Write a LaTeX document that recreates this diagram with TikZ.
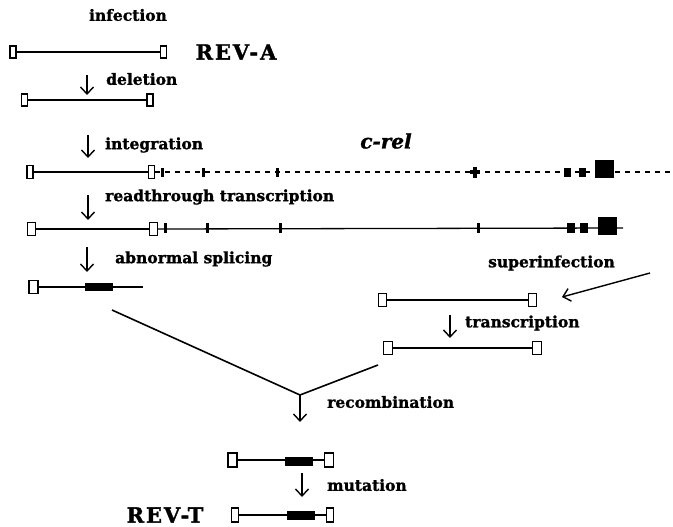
\documentclass[tikz,border=0pt]{standalone}
\usepackage{fontspec}
\setmainfont{DejaVu Serif}[BoldFeatures={FakeBold=1.3}, BoldItalicFeatures={FakeBold=1.3}]
\newfontfamily\spacedserif{DejaVu Serif}[LetterSpace=9, BoldFeatures={FakeBold=1.5}]
\usetikzlibrary{arrows.meta}
\begin{document}
\begin{tikzpicture}[x=1pt,y=-1pt,
  ltr/.style={draw, fill=white, rectangle, inner sep=0pt,
    minimum width=6pt, minimum height=12pt, line width=1.6pt},
  ltrthin/.style={ltr, line width=1.1pt, minimum width=8pt, minimum height=13pt},
  thickdna/.style={line width=2.2pt},
  thindna/.style={line width=1.3pt},
  crelline/.style={line width=2.4pt, dash pattern=on 5pt off 5pt},
  exon/.style={fill=black, draw=none, rectangle, inner sep=0pt},
  tick/.style={exon, minimum width=3pt, minimum height=9pt},
  smallexon/.style={exon, minimum width=7pt, minimum height=9pt},
  bigexon/.style={exon, minimum width=19pt, minimum height=18pt},
  insert/.style={exon, minimum width=28pt, minimum height=8pt},
  lab/.style={font=\bfseries\fontsize{15.5}{17}\selectfont, inner sep=0pt, anchor=west},
  big/.style={font=\spacedserif\bfseries\fontsize{21}{24}\selectfont, inner sep=0pt},
  flow/.style={-{Straight Barb[length=7pt,width=13pt]}, line width=1.4pt}]
\useasboundingbox (0,0) rectangle (673,527);

% ---- REV-A provirus ----
\node[lab, anchor=center] (tinf) at (128,15) {infection};
\node[ltr] (a1) at (13,52) {};
\node[ltr] (a2) at (163.5,52) {};
\draw[thickdna] (a1) -- (a2);
\node[big] (reva) at (236,52) {REV-A};

% ---- deletion ----
\coordinate (d1s) at (87,75); \coordinate (d1e) at (87,95);
\draw[flow] (d1s) -- (d1e);
\node[lab] (tdel) at (106,79) {deletion};
\node[ltr] (b1) at (24.5,100) {};
\node[ltr] (b2) at (150,100) {};
\draw[thickdna] (b1) -- (b2);

% ---- integration next to c-rel ----
\coordinate (d2s) at (88,135); \coordinate (d2e) at (88,158);
\draw[flow] (d2s) -- (d2e);
\node[lab] (tint) at (105,145) {integration};
\node[font=\bfseries\itshape\fontsize{20}{23}\selectfont, inner sep=0pt] (crel) at (386,141) {c-rel};
\node[ltr, minimum height=13pt] (c1) at (30,172) {};
\node[ltr, minimum height=13pt] (c2) at (151.5,172) {};
\coordinate (cend) at (673,172);
\draw[thickdna] (c1) -- (c2);
\draw[crelline] (c2.east) -- (cend);
\node[tick] (ct1) at (162,172) {};
\node[tick] (ct2) at (203,172) {};
\node[tick] (ct3) at (277,172) {};
\node[tick, minimum width=4pt, minimum height=11pt] (ct4) at (475,172) {};
\node[exon, minimum width=10pt, minimum height=3.5pt] at (475,172) {};
\node[smallexon] (ce1) at (567,172) {};
\node[smallexon] (ce2) at (582,172) {};
\node[bigexon] (ce3) at (604.5,168.5) {};

% ---- readthrough transcription ----
\coordinate (d3s) at (88,195); \coordinate (d3e) at (88,220);
\draw[flow] (d3s) -- (d3e);
\node[lab] (tread) at (105,197) {readthrough transcription};
\node[ltrthin] (r1) at (31.5,229) {};
\node[ltrthin] (r2) at (153.5,229) {};
\coordinate (rend) at (623,228);
\draw[thindna] (r1) -- (r2);
\draw[thindna] (r2.east) -- (rend);
\node[tick, minimum height=10pt] (rt1) at (165,228) {};
\node[tick, minimum height=10pt] (rt2) at (207,228) {};
\node[tick, minimum height=10pt] (rt3) at (280,228) {};
\node[tick, minimum height=10pt] (rt4) at (478,228) {};
\node[smallexon, minimum width=8pt, minimum height=10pt] (re1) at (571,228) {};
\node[smallexon, minimum width=8pt, minimum height=10pt] (re2) at (584,228) {};
\node[bigexon] (re3) at (607.5,226) {};

% ---- abnormal splicing ----
\coordinate (d4s) at (87,247); \coordinate (d4e) at (87,272);
\draw[flow] (d4s) -- (d4e);
\node[lab] (tspl) at (115,259) {abnormal splicing};
\node[ltrthin, minimum width=9pt] (s1) at (33.5,287) {};
\coordinate (send) at (143,287);
\draw[thindna] (s1) -- (send);
\node[insert] (sins) at (99,287) {};

% ---- superinfection and transcription of the helper ----
\node[lab] (tsup) at (488,263) {superinfection};
\coordinate (sups) at (650,273); \coordinate (supe) at (562,297);
\draw[flow] (sups) -- (supe);
\node[ltr, minimum width=8pt, minimum height=13pt] (h1) at (382.5,300) {};
\node[ltr, minimum width=8pt, minimum height=13pt] (h2) at (532.5,300) {};
\draw[thickdna] (h1) -- (h2);
\coordinate (d5s) at (450,315); \coordinate (d5e) at (450,338);
\draw[flow] (d5s) -- (d5e);
\node[lab] (ttr) at (465,323) {transcription};
\node[ltrthin, minimum width=9pt] (k1) at (388,348) {};
\node[ltrthin, minimum width=9pt] (k2) at (537,348) {};
\draw[thindna] (k1) -- (k2);

% ---- recombination ----
\coordinate (v1) at (112,310);
\coordinate (vm) at (300,395);
\coordinate (v2) at (378,365);
\coordinate (d6e) at (300,422);
\draw[line width=1.6pt] (v1) -- (vm) -- (v2);
\draw[flow] (vm) -- (d6e);
\node[lab] (trec) at (327,402) {recombination};
\node[ltrthin, minimum width=9pt, minimum height=14pt] (m1) at (232.5,460) {};
\node[ltrthin, minimum width=9pt, minimum height=14pt] (m2) at (329,460) {};
\draw[thindna] (m1) -- (m2);
\node[insert, minimum height=9pt] (mins) at (299,461) {};

% ---- mutation: REV-T ----
\coordinate (d7s) at (302,473); \coordinate (d7e) at (302,497);
\draw[flow] (d7s) -- (d7e);
\node[lab] (tmut) at (327,485) {mutation};
\node[ltrthin, minimum width=7pt, minimum height=14pt] (t1) at (235,515) {};
\node[ltrthin, minimum width=7pt, minimum height=14pt] (t2) at (330,515) {};
\draw[thindna] (t1) -- (t2);
\node[insert, minimum height=9pt] (tins) at (301,515) {};
\node[big] (revt) at (165,515) {REV-T};
\end{tikzpicture}
\end{document}
